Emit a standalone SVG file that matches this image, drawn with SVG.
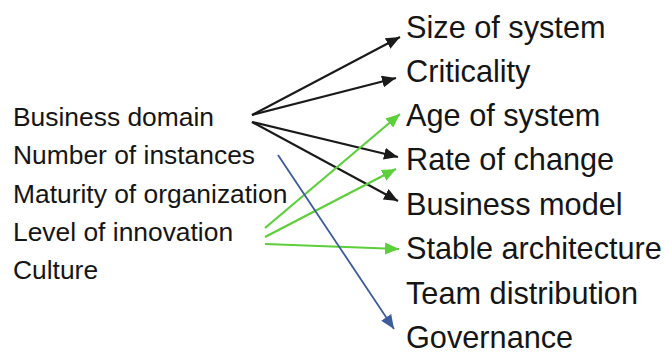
<svg xmlns="http://www.w3.org/2000/svg" width="666" height="354" viewBox="0 0 666 354">
<style>
.lt{font-family:"Liberation Sans",Arial,sans-serif;font-size:26.4px;fill:#151515}
.rt{font-family:"Liberation Sans",Arial,sans-serif;font-size:30.7px;fill:#151515}
.k{stroke:#1a1a1a;stroke-width:2.2;fill:none}
.g{stroke:#5ccf3a;stroke-width:2.2;fill:none}
.b{stroke:#3d5c9c;stroke-width:1.8;fill:none}
</style>
<defs>
<marker id="ak" markerUnits="userSpaceOnUse" markerWidth="16" markerHeight="14" refX="14" refY="6" orient="auto"><path d="M0,0 L14,6 L0,12 Z" fill="#1a1a1a"/></marker>
<marker id="ag" markerUnits="userSpaceOnUse" markerWidth="16" markerHeight="14" refX="14" refY="6" orient="auto"><path d="M0,0 L14,6 L0,12 Z" fill="#5ccf3a"/></marker>
<marker id="ab" markerUnits="userSpaceOnUse" markerWidth="16" markerHeight="14" refX="14" refY="6" orient="auto"><path d="M0,0 L14,6 L0,12 Z" fill="#3d5c9c"/></marker>
</defs>
<rect width="666" height="354" fill="#ffffff"/>
<g id="connectors">
<line class="k" x1="252" y1="115" x2="400" y2="37" marker-end="url(#ak)"/>
<line class="k" x1="252" y1="115" x2="396" y2="78" marker-end="url(#ak)"/>
<line class="k" x1="252" y1="122" x2="398" y2="157" marker-end="url(#ak)"/>
<line class="k" x1="252" y1="122" x2="398" y2="201" marker-end="url(#ak)"/>
<line class="g" x1="265" y1="228" x2="400" y2="114" marker-end="url(#ag)"/>
<line class="g" x1="265" y1="237" x2="396" y2="169" marker-end="url(#ag)"/>
<line class="g" x1="265" y1="244" x2="399" y2="249" marker-end="url(#ag)"/>
<line class="b" x1="278" y1="155" x2="394" y2="329" marker-end="url(#ab)"/>
</g>
<g id="n-business-domain"><text class="lt" x="13" y="126">Business domain</text></g>
<g id="n-number-of-instances"><text class="lt" x="13" y="164">Number of instances</text></g>
<g id="n-maturity"><text class="lt" x="13" y="203">Maturity of organization</text></g>
<g id="n-level-of-innovation"><text class="lt" x="13" y="241">Level of innovation</text></g>
<g id="n-culture"><text class="lt" x="13" y="279">Culture</text></g>
<g id="n-size-of-system"><text class="rt" x="406" y="38">Size of system</text></g>
<g id="n-criticality"><text class="rt" x="406" y="82">Criticality</text></g>
<g id="n-age-of-system"><text class="rt" x="406" y="126">Age of system</text></g>
<g id="n-rate-of-change"><text class="rt" x="406" y="170">Rate of change</text></g>
<g id="n-business-model"><text class="rt" x="406" y="215">Business model</text></g>
<g id="n-stable-architecture"><text class="rt" x="406" y="259">Stable architecture</text></g>
<g id="n-team-distribution"><text class="rt" x="406" y="304">Team distribution</text></g>
<g id="n-governance"><text class="rt" x="406" y="348">Governance</text></g>
</svg>
